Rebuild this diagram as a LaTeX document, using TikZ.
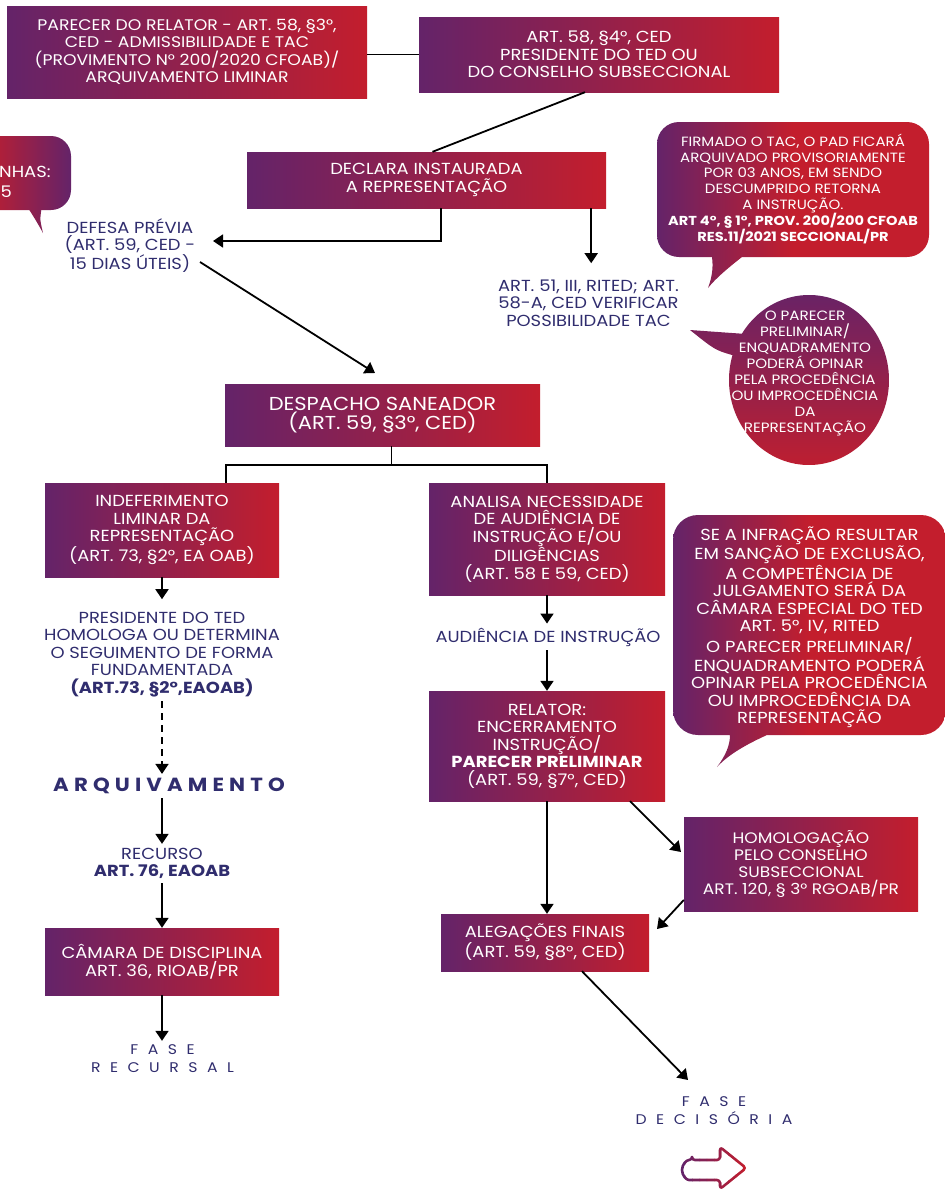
\documentclass[tikz,border=0pt]{standalone}
\usepackage{fontspec}
\setmainfont{Poppins}[FakeStretch=1.12]
\usetikzlibrary{arrows.meta}
\definecolor{pc}{RGB}{100,35,105}
\definecolor{rc}{RGB}{195,30,45}
\definecolor{nv}{RGB}{48,45,110}
\pgfdeclarehorizontalshading{bub}{100bp}{color(0bp)=(pc); color(25bp)=(pc); color(50bp)=(rc); color(100bp)=(rc)}
\begin{document}
\begin{tikzpicture}[x=1pt,y=-1pt,
 box/.style={rectangle, left color=pc, right color=rc, text=white, align=center, inner sep=0pt, font=\fontsize{16}{17.5}\selectfont},
 txt/.style={text=nv, align=center, inner sep=4pt, font=\fontsize{16}{17.5}\selectfont},
 btxt/.style={text=white, align=center, inner sep=0pt},
 ln/.style={line width=1.8pt},
 arr/.style={ln, -{Triangle[width=13pt,length=10pt]}}]
\useasboundingbox (0,0) rectangle (945,1192);
\clip (0,0) rectangle (945,1192);

% ---- speech bubbles
\shade[left color=rc, right color=pc] [rounded corners=20] (-20,136) -- (71,136) -- (71,210) -- (-20,210) -- cycle
  [sharp corners] (28,204) -- (42,204) -- (41,212) .. controls (40,220) .. (43,233) .. controls (37,222) and (32,214) .. (28,208) -- cycle;
\node[btxt, anchor=west, font=\fontsize{16}{17.5}\selectfont] (lb1) at (-1,172) {NHAS:};
\node[btxt, anchor=west, font=\fontsize{16}{17.5}\selectfont] (lb2) at (0.5,192) {5};

\shade[shading=bub] [rounded corners=22] (657,122) -- (929,122) -- (929,257) -- (657,257) -- cycle
  [sharp corners] (710,250) -- (748,250) -- (742,257) .. controls (728,268) and (716,278) .. (708,288) .. controls (713,275) and (713,265) .. (712,257) -- (710,250) -- cycle;
\node[btxt, font=\fontsize{13.4}{15.7}\selectfont] (tac) at (793,189) {FIRMADO O TAC, O PAD FICARÁ\\ARQUIVADO PROVISORIAMENTE\\POR 03 ANOS, EM SENDO\\DESCUMPRIDO RETORNA\\A INSTRUÇÃO.\\{\fontsize{13}{15.7}\selectfont\bfseries ART 4°, § 1°, PROV. 200/200 CFOAB}\\{\fontsize{13}{15.7}\selectfont\bfseries RES.11/2021 SECCIONAL/PR}};

\shade[top color=pc, bottom color=rc] (690,330) -- (741.9,333.7) arc[start angle=213, end angle=557, x radius=80, y radius=85] .. controls (715,350) .. (690,330) -- cycle;
\node[btxt, font=\fontsize{13.5}{15.9}\selectfont] (circ) at (805,373.5) {O PARECER\\PRELIMINAR/\\ENQUADRAMENTO\\PODERÁ OPINAR\\PELA PROCEDÊNCIA\\OU IMPROCEDÊNCIA\\DA\\REPRESENTAÇÃO};

\shade[shading=bub] [rounded corners=25] (673,515) -- (946,515) -- (946,735) -- (673,735) -- cycle
  [sharp corners] (728,728) -- (768,728) -- (767,735) .. controls (745,745) and (728,755) .. (717,767) .. controls (726,755) and (730,745) .. (730,735) -- (728,728) -- cycle;
\node[btxt, font=\fontsize{16}{17.5}\selectfont] (big) at (809.5,627.5) {SE A INFRAÇÃO RESULTAR\\EM SANÇÃO DE EXCLUSÃO,\\A COMPETÊNCIA DE\\JULGAMENTO SERÁ DA\\CÂMARA ESPECIAL DO TED\\ART. 5°, IV, RITED\\[3.5pt]O PARECER PRELIMINAR/\\ENQUADRAMENTO PODERÁ\\OPINAR PELA PROCEDÊNCIA\\OU IMPROCEDÊNCIA DA\\REPRESENTAÇÃO};

% ---- boxes
\node[box, minimum width=360, minimum height=92, font=\fontsize{15.4}{17.5}\selectfont] (A) at (187,52) {PARECER DO RELATOR - ART. 58, §3°,\\CED - ADMISSIBILIDADE E TAC\\(PROVIMENTO N° 200/2020 CFOAB)/\\ARQUIVAMENTO LIMINAR};
\node[box, minimum width=360, minimum height=75] (B) at (599,54.5) {ART. 58, §4°, CED\\PRESIDENTE DO TED OU\\DO CONSELHO SUBSECCIONAL};
\node[box, minimum width=359, minimum height=56] (C) at (426.5,180) {DECLARA INSTAURADA\\A REPRESENTAÇÃO};
\node[txt] (D) at (130,245.5) {DEFESA PRÉVIA\\(ART. 59, CED -\\15 DIAS ÚTEIS)};
\node[txt] (E) at (588.5,303) {ART. 51, III, RITED; ART.\\58-A, CED VERIFICAR\\POSSIBILIDADE TAC};
\node[box, minimum width=315, minimum height=62, font=\fontsize{18.75}{18.5}\selectfont] (F) at (382.5,415) {DESPACHO SANEADOR\\(ART. 59, §3°, CED)};
\node[box, minimum width=234, minimum height=94] (G) at (162,530) {INDEFERIMENTO\\LIMINAR DA\\REPRESENTAÇÃO\\(ART. 73, §2°, EA OAB)};
\node[txt] (I) at (162,654.5) {PRESIDENTE DO TED\\HOMOLOGA OU DETERMINA\\O SEGUIMENTO DE FORMA\\FUNDAMENTADA\\\textbf{(ART.73, §2°,EAOAB)}};
\node[txt, font=\fontsize{19}{20}\selectfont\bfseries\addfontfeature{LetterSpace=27}] (J) at (169,786) {ARQUIVAMENTO};
\node[txt] (K) at (162,863.5) {RECURSO\\\textbf{ART. 76, EAOAB}};
\node[box, minimum width=234, minimum height=67] (L) at (162,961.5) {CÂMARA DE DISCIPLINA\\ART. 36, RIOAB/PR};
\node[txt, font=\fontsize{14}{18}\selectfont\addfontfeature{LetterSpace=68}] (M) at (162.5,1059) {FASE\\RECURSAL};
\node[box, minimum width=236, minimum height=112] (H) at (547,539) {ANALISA NECESSIDADE\\DE AUDIÊNCIA DE\\INSTRUÇÃO E/OU\\DILIGÊNCIAS\\(ART. 58 E 59, CED)};
\node[txt] (N) at (548,637) {AUDIÊNCIA DE INSTRUÇÃO};
\node[box, minimum width=236, minimum height=110] (O) at (547,746) {RELATOR:\\ENCERRAMENTO\\INSTRUÇÃO/\\\textbf{PARECER PRELIMINAR}\\(ART. 59, §7°, CED)};
\node[box, minimum width=234, minimum height=94, font=\fontsize{15.2}{17.2}\selectfont] (P) at (801,864) {HOMOLOGAÇÃO\\PELO CONSELHO\\SUBSECCIONAL\\ART. 120, § 3° RGOAB/PR};
\node[box, minimum width=208, minimum height=57] (Q) at (545,942.5) {ALEGAÇÕES FINAIS\\(ART. 59, §8°, CED)};
\node[txt, font=\fontsize{14}{18}\selectfont\addfontfeature{LetterSpace=68}] (R) at (714,1111) {FASE\\DECISÓRIA};

% ---- free ends
\coordinate (dIn) at (213,241);
\coordinate (dOut) at (200,262);
\coordinate (fIn) at (375,373);
\coordinate (pIn) at (681,852);
\coordinate (qIn) at (657,929);
\coordinate (rIn) at (688,1080);

% ---- connectors
\draw[ln] (A.east |- B.west) -- (B.west);
\draw[ln] ([xshift=-14]B.south) -- ([xshift=6]C.north);
\draw[arr] ([xshift=14.5]C.south) |- (dIn);
\draw[arr] ([xshift=-15]C.south east) -- ++(0,55);
\draw[arr] (dOut) -- (fIn);
\draw[ln] ([xshift=9]F.south) -- ++(0,19);
\draw[ln] ([xshift=64]G.north) -- ++(0,-18) -| (H.north);
\draw[arr] (G.south) -- ++(0,22);
\draw[arr, dash pattern=on 7pt off 5pt] (I.south) -- (I.south |- J.north);
\draw[arr] (J.south -| K.north) -- (K.north);
\draw[arr] (K.south) -- (L.north);
\draw[arr] (L.south) -- (L.south |- M.north);
\draw[arr] (H.south) -- (H.south |- N.north);
\draw[arr] (N.south -| O.north) -- (O.north);
\draw[arr] (O.south) -- (O.south |- Q.north);
\draw[arr] ([xshift=83]O.south) -- (pIn);
\draw[arr] ([yshift=-36]P.west) -- (qIn);
\draw[arr] ([xshift=37]Q.south) -- (rIn);

% ---- outline arrow icon
\foreach \i in {0,...,9} {
  \pgfmathsetmacro\p{\i*11.1}
  \begin{scope}
    \clip ({678+\i*7.2},1140) rectangle ++(7.6,55);
    \draw[line width=2.6pt, color=rc!\p!pc, rounded corners=3, line join=round]
      (692,1160) -- (720,1160) -- (720,1147) -- (746,1168) -- (720,1189) -- (720,1180) -- (692,1180) arc[start angle=90, end angle=270, radius=10] -- cycle;
  \end{scope}
}
\end{tikzpicture}
\end{document}
